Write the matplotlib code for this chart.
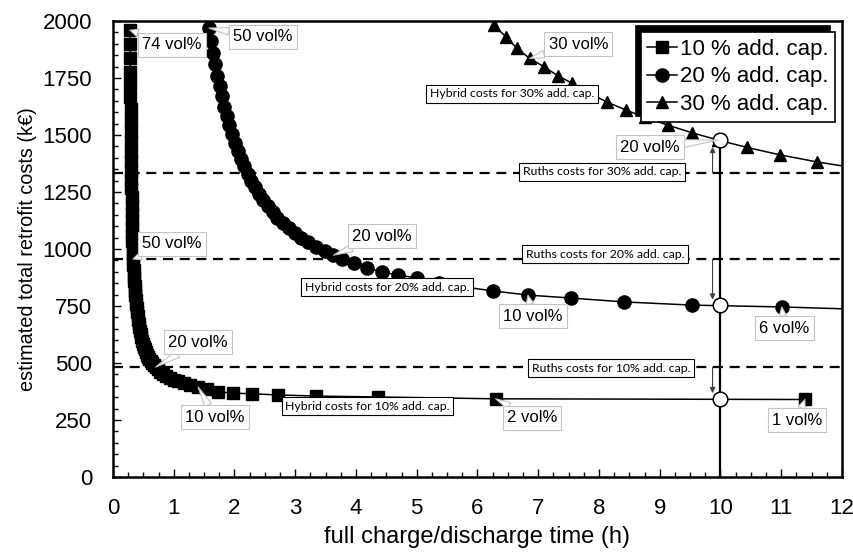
import matplotlib
matplotlib.use("Agg")
import matplotlib.pyplot as plt
from matplotlib.ticker import MultipleLocator

plt.rcParams['font.family'] = ['Liberation Sans', 'DejaVu Sans']

# ---- data -------------------------------------------------------------
# 10 % additional capacity: 74 vol% ... 1 vol%
vol10 = list(range(74, 0, -1))
x10 = [0.280, 0.281, 0.283, 0.284, 0.286, 0.287, 0.289, 0.291, 0.292, 0.294,
       0.296, 0.298, 0.300, 0.302, 0.304, 0.306, 0.309, 0.311, 0.313, 0.316,
       0.319, 0.321, 0.324, 0.327, 0.330, 0.335, 0.340, 0.346, 0.351, 0.357,
       0.364, 0.370, 0.377, 0.384, 0.392, 0.400, 0.408, 0.417, 0.426, 0.436,
       0.446, 0.457, 0.469, 0.481, 0.494, 0.509, 0.524, 0.540, 0.558, 0.577,
       0.597, 0.620, 0.644, 0.671, 0.700, 0.737, 0.778, 0.824, 0.875, 0.933,
       1.000, 1.077, 1.167, 1.273, 1.400, 1.550, 1.730, 1.980, 2.290, 2.710,
       3.350, 4.360, 6.300, 11.390]
y10 = [1960, 1897, 1836, 1778, 1722, 1668, 1616, 1566, 1518, 1472,
       1427, 1385, 1344, 1304, 1266, 1229, 1194, 1160, 1128, 1096,
       1066, 1037, 1009, 982, 956, 931, 907, 883, 861, 839,
       818, 797, 778, 759, 740, 722, 705, 688, 672, 656,
       641, 626, 612, 598, 585, 572, 560, 548, 537, 527,
       518, 508, 499, 490, 482, 472, 462, 453, 444, 435,
       427, 419, 411, 403, 395, 385, 373, 368, 365, 360,
       355, 351, 343, 340]

# 20 % additional capacity: 50 vol% ... 5 vol%
vol20 = list(range(50, 4, -1))
x20 = [1.580, 1.612, 1.646, 1.681, 1.717, 1.756, 1.793, 1.833, 1.874, 1.917,
       1.963, 2.009, 2.058, 2.109, 2.164, 2.220, 2.278, 2.339, 2.405, 2.474,
       2.550, 2.626, 2.707, 2.796, 2.890, 2.992, 3.100, 3.217, 3.345, 3.486,
       3.630, 3.770, 3.970, 4.180, 4.430, 4.690, 5.000, 5.360, 5.770, 6.260,
       6.830, 7.540, 8.410, 9.530, 11.010, 13.200]
y20 = [1969, 1914, 1861, 1810, 1761, 1714, 1669, 1625, 1583, 1543,
       1504, 1467, 1431, 1396, 1363, 1331, 1300, 1270, 1242, 1214,
       1188, 1163, 1138, 1114, 1092, 1070, 1049, 1029, 1010, 991,
       973, 956, 939, 917, 899, 886, 873, 853, 834, 816,
       798, 785, 768, 754, 746, 728]

# 30 % additional capacity: 33 vol% ... 16 vol%
vol30 = list(range(33, 15, -1))
x30 = [6.27, 6.47, 6.65, 6.86, 7.09, 7.33, 7.56, 7.83, 8.13, 8.44,
       8.76, 9.14, 9.53, 9.96, 10.43, 10.98, 11.59, 12.30]
y30 = [1982, 1930, 1880, 1836, 1800, 1759, 1727, 1685, 1645, 1610,
       1577, 1543, 1510, 1478, 1446, 1413, 1382, 1352]

# Ruths storage costs and hybrid costs at 10 h
ruths_costs = [482, 956, 1333]
t_design = 10
hybrid_at_design = [343, 753, 1478]

# ---- figure -----------------------------------------------------------
fig = plt.figure(figsize=(8.54, 5.53), dpi=100)
ax = fig.add_axes([0.1323, 0.1374, 0.8536, 0.8246])

ax.plot(x10, y10, '-s', color='black', lw=1.1, ms=8.3, label='10 % add. cap.', zorder=3)
ax.plot(x20, y20, '-o', color='black', lw=1.1, ms=9.5, label='20 % add. cap.', zorder=3)
ax.plot(x30, y30, '-^', color='black', lw=1.1, ms=9, label='30 % add. cap.', zorder=3)

for c in ruths_costs:
    ax.axhline(c, color='black', lw=1.6, ls=(0, (4.5, 3.0)), zorder=2)

ax.plot([t_design, t_design], [0, hybrid_at_design[2]], color='black', lw=1.6, zorder=4)
ax.plot([t_design] * 3, hybrid_at_design, 'o', mfc='white', mec='black',
        ms=10.5, mew=1.1, zorder=6)

# arrows from the Ruths cost levels to the hybrid cost at 10 h
arrow_kw = dict(arrowstyle='-|>', color='#404040', lw=0.8, mutation_scale=8,
                shrinkA=0, shrinkB=0)
ax.annotate('', xy=(9.87, 368), xytext=(9.87, ruths_costs[0]), arrowprops=arrow_kw, zorder=5)
ax.annotate('', xy=(9.87, 778), xytext=(9.87, ruths_costs[1]), arrowprops=arrow_kw, zorder=5)
ax.annotate('', xy=(9.87, 1448), xytext=(9.87, ruths_costs[2]), arrowprops=arrow_kw, zorder=5)


def vol_label(text, xy, xytext):
    ax.annotate(text, xy=xy, xytext=xytext, fontsize=12, ha='center', va='center',
                bbox=dict(boxstyle='square,pad=0.25', fc='white', ec='#c4c4c4', lw=0.8),
                arrowprops=dict(arrowstyle='wedge,tail_width=0.45,shrink_factor=0.5',
                                fc='white', ec='#c4c4c4', lw=0.8, shrinkA=0, shrinkB=0),
                zorder=7)


vol_label('74 vol%', (x10[0], y10[0]), (0.97, 1895))
vol_label('50 vol%', (x10[vol10.index(50)], y10[vol10.index(50)]), (0.97, 1022))
vol_label('20 vol%', (x10[vol10.index(20)], y10[vol10.index(20)]), (1.40, 592))
vol_label('10 vol%', (x10[vol10.index(10)], y10[vol10.index(10)]), (1.68, 263))
vol_label('2 vol%', (x10[vol10.index(2)], y10[vol10.index(2)]), (6.90, 259))
vol_label('1 vol%', (x10[vol10.index(1)], y10[vol10.index(1)]), (11.26, 250))

vol_label('50 vol%', (x20[0], y20[0]), (2.47, 1930))
vol_label('20 vol%', (x20[vol20.index(20)], y20[vol20.index(20)]), (4.43, 1057))
vol_label('10 vol%', (x20[vol20.index(10)], y20[vol20.index(10)]), (6.91, 706))
vol_label('6 vol%', (x20[vol20.index(6)], y20[vol20.index(6)]), (11.05, 653))

vol_label('30 vol%', (x30[vol30.index(30)], y30[vol30.index(30)]), (7.66, 1899))
vol_label('20 vol%', (x30[vol30.index(20)], y30[vol30.index(20)]), (8.84, 1447))


def cost_box(text, xy):
    ax.text(xy[0], xy[1], text, fontsize=8.8, family=['Lato', 'DejaVu Sans'],
            ha='center', va='center', zorder=8,
            bbox=dict(boxstyle='square,pad=0.3', fc='white', ec='black', lw=0.8))


cost_box('Hybrid costs for 30% add. cap.', (6.57, 1680))
cost_box('Hybrid costs for 20% add. cap.', (4.51, 833))
cost_box('Hybrid costs for 10% add. cap.', (4.19, 311))
cost_box('Ruths costs for 30% add. cap.', (8.05, 1338))
cost_box('Ruths costs for 20% add. cap.', (8.10, 978))
cost_box('Ruths costs for 10% add. cap.', (8.20, 478))

# ---- axes -------------------------------------------------------------
ax.set_xlim(0, 12)
ax.set_ylim(0, 2000)
ax.xaxis.set_major_locator(MultipleLocator(1))
ax.xaxis.set_minor_locator(MultipleLocator(0.25))
ax.yaxis.set_major_locator(MultipleLocator(250))
ax.yaxis.set_minor_locator(MultipleLocator(50))
ax.tick_params(which='both', direction='in', top=False, right=False,
               labelsize=16, pad=15, width=1)
ax.tick_params(which='major', length=6)
ax.tick_params(which='minor', length=3.5)
for s in ax.spines.values():
    s.set_linewidth(1.8)

ax.set_xlabel('full charge/discharge time (h)', fontsize=17, labelpad=5)
ax.set_ylabel('estimated total retrofit costs (k€)', fontsize=14.3, labelpad=4)

leg = ax.legend(loc='upper right', bbox_to_anchor=(0.9904, 0.9759), borderaxespad=0,
                fontsize=16, frameon=True, fancybox=False, edgecolor='black',
                framealpha=1, handlelength=1.35, handletextpad=0.1,
                labelspacing=0.3, borderpad=0.3,
                shadow={'ox': -3.6, 'oy': 4.3, 'shade': 1.0, 'alpha': 1})
leg.get_frame().set_linewidth(1.2)
leg.set_zorder(10)

fig.savefig('out.png', dpi=100)
